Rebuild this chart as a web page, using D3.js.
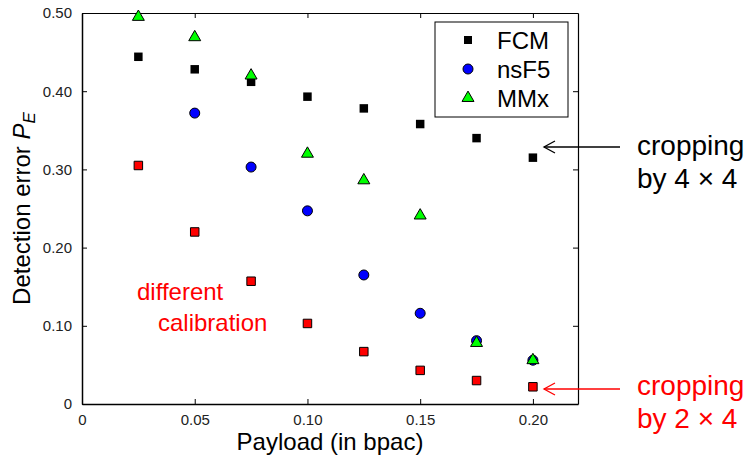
<!DOCTYPE html>
<html>
<head>
<meta charset="utf-8">
<script src="https://cdn.jsdelivr.net/npm/d3@7"></script>
<style>
  body { margin: 0; background: #fff; }
  svg { display: block; font-family: "Liberation Sans", Arial, Helvetica, sans-serif; }
</style>
</head>
<body>
<div id="chart"></div>
<script>
const payload = [0.025, 0.05, 0.075, 0.10, 0.125, 0.15, 0.175, 0.20];
const fcm   = [0.444, 0.428, 0.412, 0.393, 0.378, 0.358, 0.340, 0.315];
const nsf5  = [null, 0.372, 0.303, 0.247, 0.165, 0.116, 0.081, 0.056];
const mmx   = [0.495, 0.469, 0.420, 0.320, 0.286, 0.241, 0.078, 0.056];
const calib = [0.305, 0.220, 0.157, 0.103, 0.067, 0.043, 0.030, 0.022];
const xTicks = [0, 0.05, 0.10, 0.15, 0.20];
const yTicks = [0, 0.10, 0.20, 0.30, 0.40, 0.50];

const width = 749, height = 459;
const margin = { top: 13, right: 171, bottom: 55, left: 82 };

const svg = d3.select('#chart').append('svg')
  .attr('width', width)
  .attr('height', height);

const x = d3.scaleLinear().domain([0, 0.22]).range([margin.left, width - margin.right]);
const y = d3.scaleLinear().domain([0, 0.5]).range([height - margin.bottom, margin.top]);

const fmt = d => d === 0 ? '0' : d3.format('.2f')(d);

// axes, ticks pointing inwards on all four sides
svg.append('g')
  .attr('transform', `translate(0,${y(0)})`)
  .call(d3.axisBottom(x).tickValues(xTicks).tickFormat(fmt).tickSizeInner(-5).tickSizeOuter(0).tickPadding(10))
  .call(g => g.select('.domain').attr('stroke-width', 1.5));
svg.append('g')
  .attr('transform', `translate(0,${y(0.5)})`)
  .call(d3.axisTop(x).tickValues(xTicks).tickFormat('').tickSizeInner(-5).tickSizeOuter(0))
  .call(g => g.select('.domain').attr('stroke-width', 1.2));
svg.append('g')
  .attr('transform', `translate(${x(0)},0)`)
  .call(d3.axisLeft(y).tickValues(yTicks).tickFormat(fmt).tickSizeInner(-5).tickSizeOuter(0).tickPadding(10))
  .call(g => g.select('.domain').attr('stroke-width', 1.5));
svg.append('g')
  .attr('transform', `translate(${x(0.22)},0)`)
  .call(d3.axisRight(y).tickValues(yTicks).tickFormat('').tickSizeInner(-5).tickSizeOuter(0))
  .call(g => g.select('.domain').attr('stroke-width', 1.2));

svg.selectAll('.tick text')
  .style('font-size', '15px')
  .style('font-family', '"Liberation Sans", Arial, sans-serif')
  .style('fill', '#222');

// axis titles
svg.append('text')
  .attr('x', (x(0) + x(0.22)) / 2)
  .attr('y', 450)
  .attr('text-anchor', 'middle')
  .style('font-size', '24px')
  .text('Payload (in bpac)');

const yTitle = svg.append('text')
  .attr('transform', `translate(30,${(y(0) + y(0.5)) / 2}) rotate(-90)`)
  .attr('text-anchor', 'middle')
  .style('font-size', '24px');
yTitle.append('tspan').text('Detection error ');
yTitle.append('tspan').style('font-style', 'italic').text('P');
yTitle.append('tspan').style('font-style', 'italic').style('font-size', '17px').attr('dy', 5).text('E');

// markers
const sq = d3.symbol().type(d3.symbolSquare);
const tri = d3.symbol().type(d3.symbolTriangle).size(62);

const pts = vals => payload.map((p, i) => ({ x: p, y: vals[i] })).filter(d => d.y != null);

svg.append('g').selectAll('path')
  .data(pts(fcm)).join('path')
  .attr('transform', d => `translate(${x(d.x)},${y(d.y)})`)
  .attr('d', sq.size(72)())
  .attr('fill', '#000');

svg.append('g').selectAll('circle')
  .data(pts(nsf5)).join('circle')
  .attr('cx', d => x(d.x))
  .attr('cy', d => y(d.y))
  .attr('r', 5)
  .attr('fill', '#0000ff')
  .attr('stroke', '#000')
  .attr('stroke-width', 1);

svg.append('g').selectAll('path')
  .data(pts(mmx)).join('path')
  .attr('transform', d => `translate(${x(d.x)},${y(d.y)})`)
  .attr('d', tri())
  .attr('fill', '#00ff00')
  .attr('stroke', '#000')
  .attr('stroke-width', 1);

svg.append('g').selectAll('path')
  .data(pts(calib)).join('path')
  .attr('transform', d => `translate(${x(d.x)},${y(d.y)})`)
  .attr('d', d3.symbol().type(d3.symbolSquare).size(72)())
  .attr('fill', '#ff0000')
  .attr('stroke', '#000')
  .attr('stroke-width', 1);

// legend
const legend = svg.append('g').attr('transform', 'translate(435,22)');
legend.append('rect')
  .attr('width', 133).attr('height', 95)
  .attr('fill', '#fff').attr('stroke', '#000').attr('stroke-width', 1);
const items = [
  { name: 'FCM', kind: 'fcm' },
  { name: 'nsF5', kind: 'nsf5' },
  { name: 'MMx', kind: 'mmx' }
];
items.forEach((it, i) => {
  const g = legend.append('g').attr('transform', `translate(33,${18 + i * 29})`);
  if (it.kind === 'fcm') {
    g.append('path').attr('d', d3.symbol().type(d3.symbolSquare).size(64)()).attr('fill', '#000');
  } else if (it.kind === 'nsf5') {
    g.append('circle').attr('r', 5).attr('fill', '#0000ff').attr('stroke', '#000');
  } else {
    g.append('path').attr('d', tri()).attr('fill', '#00ff00').attr('stroke', '#000');
  }
  g.append('text')
    .attr('x', 29).attr('y', 8.5)
    .style('font-size', '24px')
    .text(it.name);
});

// annotations
svg.append('text').attr('x', 137).attr('y', 300).attr('fill', '#ff0000')
  .style('font-size', '24px').text('different');
svg.append('text').attr('x', 158).attr('y', 331).attr('fill', '#ff0000')
  .style('font-size', '24px').text('calibration');

const arrow = (y0, color) => {
  const x0 = 620, x1 = 544;
  svg.append('line').attr('x1', x0).attr('x2', x1).attr('y1', y0).attr('y2', y0)
    .attr('stroke', color).attr('stroke-width', 1.3);
  svg.append('path')
    .attr('d', `M${x1 + 11},${y0 - 6} L${x1},${y0} L${x1 + 11},${y0 + 6}`)
    .attr('fill', 'none').attr('stroke', color).attr('stroke-width', 1.3);
};
arrow(147, '#000');
arrow(389, '#ff0000');

const note = (x0, y0, lines, color) => {
  lines.forEach((t, i) => {
    svg.append('text').attr('x', x0).attr('y', y0 + i * 33)
      .attr('fill', color).style('font-size', '28px').text(t);
  });
};
note(637, 155, ['cropping', 'by 4 × 4'], '#000');
note(637, 395, ['cropping', 'by 2 × 4'], '#ff0000');
</script>
</body>
</html>
